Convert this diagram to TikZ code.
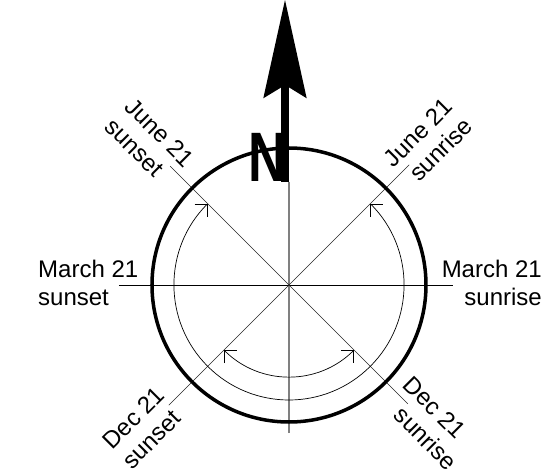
\documentclass[tikz,border=0pt]{standalone}
\usepackage{fontspec}
\setmainfont{Liberation Sans}
\usetikzlibrary{arrows.meta}
\begin{document}
\begin{tikzpicture}[x=1pt,y=1pt,
  lbl/.style={inner sep=0pt, font=\fontsize{24}{28}\selectfont},
  thinline/.style={line width=0.7pt, black},
  diag/.style={line width=0.6pt, black!85},
  barb/.tip={Straight Barb[length=9pt,width=18pt]},
  dirarc/.style={line width=0.7pt, barb-barb},
]
\useasboundingbox (-289,-187) rectangle (258,285);
\coordinate (O) at (0,0);
\coordinate (nw) at (135:168);
\coordinate (se) at (-45:168);
\coordinate (ne) at (45:170);
\coordinate (sw) at (-135:170);
\coordinate (W) at (-170,0);
\coordinate (E) at (164,0);
\coordinate (S) at (0,-148);
\coordinate (Ntop) at (0,103);
% lines
\draw[gray, line width=1.4pt] (S) -- (Ntop);
\draw[thinline] (W) -- (E);
\draw[diag] (nw) -- (se);
\draw[diag] (sw) -- (ne);
% circles and arcs
\draw[line width=3.5pt] (O) circle (137);
\draw[dirarc] (45:115) arc[start angle=45, end angle=-225, radius=115];
\draw[dirarc] (-45:92) arc[start angle=-45, end angle=-135, radius=92];
% north arrow
\fill (-8,103) rectangle (0.3,200);
\fill (-4,285) -- (17.7,186.7) -- (-3.8,200) -- (-25.7,186.7) -- cycle;
\node[inner sep=0pt, anchor=base, font=\fontsize{70}{70}\selectfont\bfseries] (north) at (-22,103) {\scalebox{0.75}[1]{N}};
% horizontal labels
\node[lbl, anchor=base west] (w1) at (-251,8) {March 21};
\node[lbl, anchor=base west] (w2) at (-251,-20) {sunset};
\node[lbl, anchor=base east] (e1) at (253,8) {March 21};
\node[lbl, anchor=base east] (e2) at (253,-20) {sunrise};
% diagonal labels
\begin{scope}[rotate=45]
\node[lbl, anchor=base east, transform shape] (ne1) at (242,8) {June 21};
\node[lbl, anchor=base east, transform shape] (ne2) at (242,-20) {sunrise};
\node[lbl, anchor=base west, transform shape] (sw1) at (-242,8) {Dec 21};
\node[lbl, anchor=base west, transform shape] (sw2) at (-242,-20) {sunset};
\end{scope}
\begin{scope}[rotate=-45]
\node[lbl, anchor=base west, transform shape] (nw1) at (-242,8) {June 21};
\node[lbl, anchor=base west, transform shape] (nw2) at (-242,-20) {sunset};
\node[lbl, anchor=base east, transform shape] (se1) at (228,8) {Dec 21};
\node[lbl, anchor=base east, transform shape] (se2) at (244,-20) {sunrise};
\end{scope}
\end{tikzpicture}
\end{document}
